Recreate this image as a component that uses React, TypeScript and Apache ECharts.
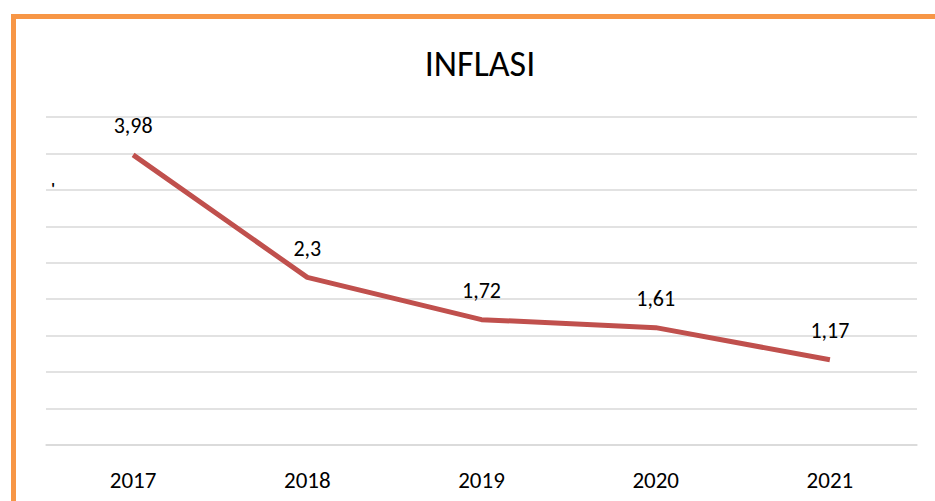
import React, { useEffect, useRef } from "react";
import * as echarts from "echarts";

const categories = ["2017", "2018", "2019", "2020", "2021"];
const inflation = [3.98, 2.3, 1.72, 1.61, 1.17];
const labelsText = ["3,98", "2,3", "1,72", "1,61", "1,17"];
const titleText = "INFLASI";

const FONT = "Carlito, Calibri, 'Liberation Sans', Arial, sans-serif";

export default function App() {
  const ref = useRef<HTMLDivElement>(null);
  useEffect(() => {
    document.body.style.margin = "0";
    const chart = echarts.init(ref.current!, null, { renderer: "svg" });
    chart.setOption({
      animation: false,
      backgroundColor: "#ffffff",
      textStyle: { fontFamily: FONT },
      grid: { left: 46, right: 18, top: 117, bottom: 56, containLabel: false },
      graphic: [
        {
          type: "polyline",
          shape: { points: [[13.5, 501], [13.5, 16.5], [935, 16.5]] },
          style: { stroke: "#F79646", lineWidth: 5, fill: null },
        },
        {
          type: "text",
          x: 480,
          y: 64,
          style: {
            text: titleText,
            font: `36px ${FONT}`,
            fill: "#000",
            textAlign: "center",
            textVerticalAlign: "middle",
          },
        },
        {
          type: "text",
          x: 53,
          y: 188,
          style: {
            text: "'",
            font: `bold 16px ${FONT}`,
            fill: "#000",
            textAlign: "center",
            textVerticalAlign: "middle",
          },
        },
      ],
      xAxis: {
        type: "category",
        data: categories,
        boundaryGap: true,
        axisLine: { show: true, lineStyle: { color: "#d9d9d9", width: 1.5 } },
        axisTick: { show: false },
        axisLabel: { color: "#000", fontSize: 23, margin: 23, fontFamily: FONT },
      },
      yAxis: {
        type: "value",
        min: 0,
        max: 4.5,
        interval: 0.5,
        axisLine: { show: false },
        axisTick: { show: false },
        axisLabel: { show: false },
        splitLine: { lineStyle: { color: "#d9d9d9", width: 1.5 } },
      },
      series: [
        {
          type: "line",
          data: inflation,
          symbol: "circle",
          symbolSize: 0,
          showSymbol: true,
          lineStyle: { color: "#C0504D", width: 5 },
          itemStyle: { color: "#C0504D" },
          label: {
            show: true,
            position: "top",
            distance: 18,
            fontSize: 22,
            lineHeight: 22,
            color: "#000",
            opacity: 1,
            fontFamily: FONT,
            formatter: (p: any) => labelsText[p.dataIndex],
          },
        },
      ],
    });
    return () => chart.dispose();
  }, []);
  return <div ref={ref} style={{ width: 935, height: 501 }} />;
}
